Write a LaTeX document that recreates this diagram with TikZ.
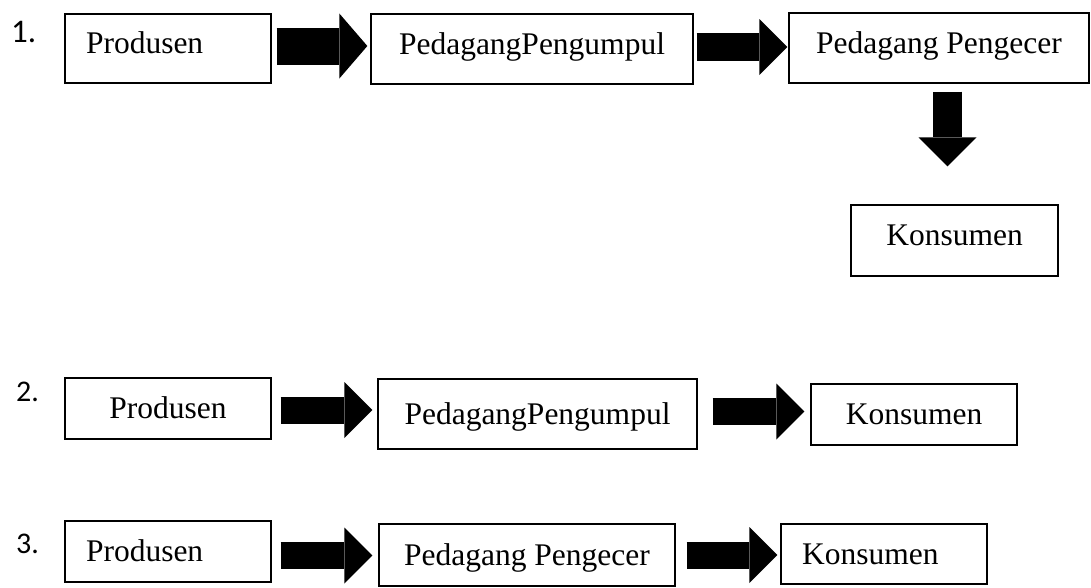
\documentclass[tikz,border=0pt]{standalone}
\usepackage{fontspec}
\setmainfont{Liberation Serif}
\newfontfamily\numfont{Carlito}
\usepackage{tikz}
\usetikzlibrary{arrows.meta}

\tikzset{
  box/.style={draw, line width=1.3pt, inner sep=0pt, text height=21pt,
    font=\fontsize{31.5}{36}\selectfont},
  leftbox/.style={box, inner xsep=21pt, text width=164pt, align=left},
  num/.style={anchor=base west, inner sep=0pt, font=\numfont\fontsize{30}{36}\selectfont},
  flow/.style={line width=27pt, -{Triangle[length=28pt,width=56pt,line width=0pt]}}
}

\begin{document}
\begin{tikzpicture}[x=1pt,y=-1pt]
\useasboundingbox (0,0) rectangle (1091,587);

% row 1
\node[num, font=\numfont\fontsize{33}{38}\selectfont] (n1) at (11,42) {1.};
\node[leftbox, text depth=11pt, minimum width=206pt, minimum height=69pt] (p1) at (168,48.5) {Produsen};
\node[box, text depth=11pt, minimum width=322pt, minimum height=70pt] (g1) at (532,49) {PedagangPengumpul};
\node[box, text depth=11pt, minimum width=300pt, minimum height=70pt] (r1) at (939,48) {Pedagang Pengecer};
\node[box, text depth=11pt, minimum width=207pt, minimum height=71pt] (k1) at (954.5,240.5) {Konsumen};

\draw[flow, line width=37pt, -{Triangle[length=28pt,width=65pt,line width=0pt]}, shorten <=5pt, shorten >=3pt]
  ([yshift=2.5pt]p1.east) -- ([yshift=2.5pt]p1.east -| g1.west);
\draw[flow, line width=28pt, shorten <=3pt, shorten >=1pt]
  ([yshift=2pt]g1.east) -- ([yshift=2pt]g1.east -| r1.west);
\draw[flow, line width=29pt, -{Triangle[length=29pt,width=58pt,line width=0pt]}, shorten <=8pt, shorten >=38pt]
  ([xshift=8.5pt]r1.south) -- ([xshift=8.5pt]r1.south |- k1.north);

% row 2
\node[num] (n2) at (16,401) {2.};
\node[box, text depth=1pt, minimum width=206pt, minimum height=61pt] (p2) at (168,408.5) {Produsen};
\node[box, text depth=1pt, minimum width=319pt, minimum height=70pt] (g2) at (537.5,414) {PedagangPengumpul};
\node[box, text depth=1pt, minimum width=206pt, minimum height=61pt] (k2) at (914,414.5) {Konsumen};

\draw[flow, shorten <=9pt, shorten >=5pt]
  ([yshift=-1.5pt]p2.east) -- ([yshift=-1.5pt]p2.east -| g2.west);
\draw[flow, shorten <=15pt, shorten >=6pt]
  ([yshift=2.5pt]g2.east) -- ([yshift=2.5pt]g2.east -| k2.west);

% row 3
\node[num] (n3) at (16,553) {3.};
\node[leftbox, text depth=1pt, minimum width=206pt, minimum height=61pt] (p3) at (168,551.5) {Produsen};
\node[box, text depth=1pt, minimum width=296pt, minimum height=62pt] (r3) at (527,555) {Pedagang Pengecer};
\node[leftbox, text depth=1pt, minimum width=206pt, minimum height=60pt] (k3) at (884,554) {Konsumen};

\draw[flow, shorten <=9pt, shorten >=6pt]
  ([yshift=-4pt]p3.east) -- ([yshift=-4pt]p3.east -| r3.west);
\draw[flow, shorten <=11pt, shorten >=3pt]
  (r3.east) -- (r3.east -| k3.west);
\end{tikzpicture}
\end{document}
